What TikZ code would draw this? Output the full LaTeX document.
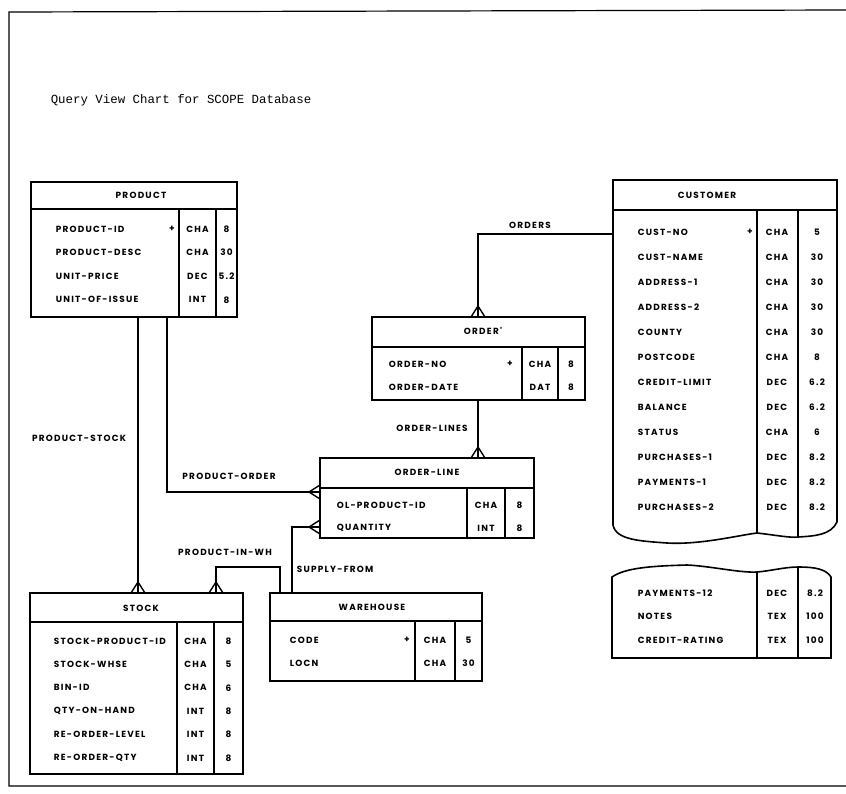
\documentclass[tikz,border=0pt]{standalone}
\usepackage{fontspec}
\newfontfamily\erfont[LetterSpace=14]{Poppins}
\newfontfamily\typefont{Liberation Mono}

\tikzset{
  tbl/.style={draw, rectangle, outer sep=0pt, inner sep=0pt},
  cell/.style={font=\erfont\bfseries\fontsize{8.9}{10}\selectfont, inner sep=0pt},
  fld/.style={cell, anchor=west},
  crow/.pic={\draw[line width=1.4pt] (-7,0) -- (0,-11) -- (7,0) (0,-11) -- (0,0);}
}

\begin{document}
\begin{tikzpicture}[x=1pt, y=-1pt, line width=1.6pt]
  \useasboundingbox (0,0) rectangle (846,793);
  % page frame
  \draw[line width=1.2pt] (846,10) -- (9,12) -- (9,786) -- (846,786);
  \node[anchor=base west, inner sep=0pt, font=\typefont\fontsize{12.4}{14}\selectfont] (title) at (50,103) {Query View Chart for SCOPE Database};

  % PRODUCT
  \node[tbl, minimum width=206pt, minimum height=135pt] (product) at (134,249.5) {};
  \draw (31,209) -- (237,209) (179,209) -- (179,317) (216,209) -- (216,317);
  \node[cell] (product-h) at (141,195) {PRODUCT};
  \foreach \n/\t/\l [count=\i from 0] in {PRODUCT-ID/CHA/8, PRODUCT-DESC/CHA/30, UNIT-PRICE/DEC/5.2, UNIT-OF-ISSUE/INT/8} {
    \node[fld] (product-n\i) at (55,229+23.6*\i) {\n};
    \node[cell] (product-t\i) at (197.5,229+23.6*\i) {\t};
    \node[cell] (product-l\i) at (226.5,229+23.6*\i) {\l};
  }
  \node[cell] (product-k) at (172,229) {+};

  % CUSTOMER
  \node[minimum width=224pt, minimum height=350pt, outer sep=0pt] (customer) at (725,355) {};
  \draw (613,525) -- (613,180) -- (837,180) -- (837,522)
    .. controls (831,535) and (815,536) .. (798,537)
    .. controls (790,538) and (775,535) .. (757,533)
    .. controls (740,535) and (700,545) .. (667,543)
    .. controls (640,541) and (616,540) .. (613,525);
  \draw (613,210) -- (837,210) (757,210) -- (757,533) (798,210) -- (798,537);
  \node[cell] (customer-h) at (707,195) {CUSTOMER};
  \foreach \n/\t/\l [count=\i from 0] in {CUST-NO/CHA/5, CUST-NAME/CHA/30, ADDRESS-1/CHA/30, ADDRESS-2/CHA/30, COUNTY/CHA/30, POSTCODE/CHA/8, CREDIT-LIMIT/DEC/6.2, BALANCE/DEC/6.2, STATUS/CHA/6, PURCHASES-1/DEC/8.2, PAYMENTS-1/DEC/8.2, PURCHASES-2/DEC/8.2} {
    \node[fld] (customer-n\i) at (637,232+25*\i) {\n};
    \node[cell] (customer-t\i) at (777,232+25*\i) {\t};
    \node[cell] (customer-l\i) at (817,232+25*\i) {\l};
  }
  \node[cell] (customer-k) at (750,232) {+};

  % CUSTOMER, continued
  \draw (612,658) -- (612,577)
    .. controls (625,568) and (650,566) .. (687,565)
    .. controls (710,566) and (740,573) .. (757,572)
    .. controls (770,571) and (785,567) .. (798,567)
    .. controls (815,567) and (826,569) .. (831,577) -- (831,658) -- cycle;
  \draw (757,572) -- (757,658) (798,567) -- (798,658);
  \foreach \n/\t/\l [count=\i from 0] in {PAYMENTS-12/DEC/8.2, NOTES/TEX/100, CREDIT-RATING/TEX/100} {
    \node[fld] (more-n\i) at (637,593+23.5*\i) {\n};
    \node[cell] (more-t\i) at (777,593+23.5*\i) {\t};
    \node[cell] (more-l\i) at (815,593+23.5*\i) {\l};
  }

  % ORDER'
  \node[tbl, minimum width=213pt, minimum height=83pt] (order) at (478.5,358.5) {};
  \draw (372,347) -- (585,347) (522,347) -- (522,400) (558,347) -- (558,400);
  \node[cell] (order-h) at (483,331) {ORDER'};
  \foreach \n/\t/\l [count=\i from 0] in {ORDER-NO/CHA/8, ORDER-DATE/DAT/8} {
    \node[fld] (order-n\i) at (388,364+23*\i) {\n};
    \node[cell] (order-t\i) at (540,364+23*\i) {\t};
    \node[cell] (order-l\i) at (571,364+23*\i) {\l};
  }
  \node[cell] (order-k) at (510,364) {+};

  % ORDER-LINE
  \node[tbl, minimum width=214pt, minimum height=80pt] (oline) at (427,498) {};
  \draw (320,488) -- (534,488) (467,488) -- (467,538) (505,488) -- (505,538);
  \node[cell] (oline-h) at (427,472) {ORDER-LINE};
  \foreach \n/\t/\l [count=\i from 0] in {OL-PRODUCT-ID/CHA/8, QUANTITY/INT/8} {
    \node[fld] (oline-n\i) at (336,505+23*\i) {\n};
    \node[cell] (oline-t\i) at (486,505+23*\i) {\t};
    \node[cell] (oline-l\i) at (519.5,505+23*\i) {\l};
  }

  % STOCK
  \node[tbl, minimum width=213pt, minimum height=181pt] (stock) at (136.5,683.5) {};
  \draw (30,622) -- (243,622) (177,622) -- (177,774) (214,622) -- (214,774);
  \node[cell] (stock-h) at (141,608) {STOCK};
  \foreach \n/\t/\l [count=\i from 0] in {STOCK-PRODUCT-ID/CHA/8, STOCK-WHSE/CHA/5, BIN-ID/CHA/6, QTY-ON-HAND/INT/8, RE-ORDER-LEVEL/INT/8, RE-ORDER-QTY/INT/8} {
    \node[fld] (stock-n\i) at (53,641+23.4*\i) {\n};
    \node[cell] (stock-t\i) at (195.5,641+23.4*\i) {\t};
    \node[cell] (stock-l\i) at (228.5,641+23.4*\i) {\l};
  }

  % WAREHOUSE
  \node[tbl, minimum width=212pt, minimum height=88pt] (whouse) at (376,637) {};
  \draw (270,621) -- (482,621) (415,621) -- (415,681) (455,621) -- (455,681);
  \node[cell] (whouse-h) at (372,607) {WAREHOUSE};
  \foreach \n/\t/\l [count=\i from 0] in {CODE/CHA/5, LOCN/CHA/30} {
    \node[fld] (whouse-n\i) at (289,640+23*\i) {\n};
    \node[cell] (whouse-t\i) at (435,640+23*\i) {\t};
    \node[cell] (whouse-l\i) at (468.5,640+23*\i) {\l};
  }
  \node[cell] (whouse-k) at (407,640) {+};

  % relationships
  \draw (customer.west |- 0,234) -| (order.north -| 478,0);
  \pic at (order.north -| 478,0) {crow};
  \node[cell] (orders) at (530,225) {ORDERS};

  \draw (order.south -| 478,0) -- (oline.north -| 478,0);
  \pic at (oline.north -| 478,0) {crow};
  \node[cell] (order-lines) at (432,428) {ORDER-LINES};

  \draw (product.south -| 167,0) |- (oline.west |- 0,492);
  \pic[rotate=90] at (oline.west |- 0,492) {crow};
  \node[cell] (product-order) at (229,476) {PRODUCT-ORDER};

  \draw (product.south -| 138,0) -- (stock.north -| 138,0);
  \pic at (stock.north -| 138,0) {crow};
  \node[cell] (product-stock) at (79,438) {PRODUCT-STOCK};

  \draw (stock.north -| 216,0) |- (248,567) -| (whouse.north -| 280,0);
  \pic at (stock.north -| 216,0) {crow};
  \node[cell] (product-in-wh) at (225,552) {PRODUCT-IN-WH};

  \draw (whouse.north -| 292,0) |- (oline.west |- 0,527);
  \pic[rotate=90] at (oline.west |- 0,527) {crow};
  \node[fld] (supply-from) at (296,569) {SUPPLY-FROM};
\end{tikzpicture}
\end{document}
